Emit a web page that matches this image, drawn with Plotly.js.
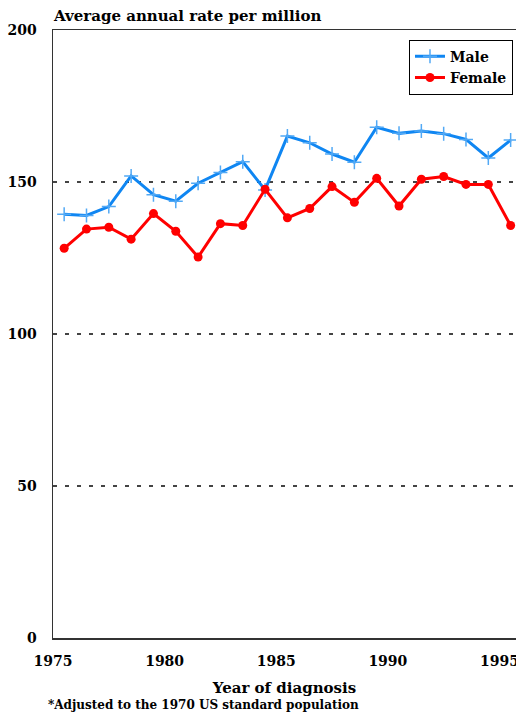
<!DOCTYPE html>
<html>
<head>
<meta charset="utf-8">
<script src="https://cdn.plot.ly/plotly-3.0.1.min.js"></script>
<style>
html,body{margin:0;padding:0;background:#fff;overflow:hidden;}
#chart{width:516px;height:712px;}
</style>
</head>
<body>
<div id="chart"></div>
<script>
const years = [1975.5,1976.5,1977.5,1978.5,1979.5,1980.5,1981.5,1982.5,1983.5,1984.5,1985.5,1986.5,1987.5,1988.5,1989.5,1990.5,1991.5,1992.5,1993.5,1994.5,1995.5];
const maleRates = [139.4,139.0,141.9,152.0,145.8,143.7,149.6,153.1,156.7,147.4,165.1,162.9,159.2,156.5,168.0,166.0,166.8,165.9,164.0,157.9,163.8];
const femaleRates = [128.2,134.5,135.1,131.2,139.6,133.8,125.3,136.3,135.7,147.6,138.2,141.3,148.5,143.3,151.2,142.1,150.9,151.8,149.2,149.2,135.7];
const xTicks = [1975,1980,1985,1990,1995];
const yTicks = [0,50,100,150,200];
const yAxisTitle = "Average annual rate per million";
const xAxisTitle = "Year of diagnosis";
const footnote = "*Adjusted to the 1970 US standard population";

const FONT = "DejaVu Serif";

const traces = [
  {
    x: years, y: maleRates, name: "Male", type: "scatter", mode: "lines+markers",
    line: {color: "#0f86f2", width: 3},
    marker: {symbol: "cross-thin", size: 10, line: {color: "#52a9f5", width: 1.5}, color: "#52a9f5"}
  },
  {
    x: years, y: femaleRates, name: "Female", type: "scatter", mode: "lines+markers",
    line: {color: "#ff0000", width: 3},
    marker: {symbol: "circle", size: 9, color: "#ff0000"}
  }
];

const layout = {
  width: 516, height: 712,
  margin: {l: 53, r: 0, t: 30, b: 74},
  paper_bgcolor: "#fff", plot_bgcolor: "#fff",
  font: {family: FONT, color: "#000", size: 14, weight: "bold"},
  showlegend: true,
  legend: {
    x: 0.9935, xanchor: "right", y: 0.984, yanchor: "top",
    bordercolor: "#000", borderwidth: 1, bgcolor: "#fff",
    font: {family: FONT, size: 14, weight: "bold", color: "#000"},
    tracegroupgap: 0, itemwidth: 30
  },
  xaxis: {
    range: [1975, 1995.74],
    tickvals: xTicks, ticktext: xTicks.map(String),
    ticks: "", showgrid: false, zeroline: false,
    showline: true, linecolor: "#333", linewidth: 1.5, mirror: true,
    tickfont: {family: FONT, size: 14, weight: "bold"},
    ticklabelstandoff: 10, ticklabeloverflow: "allow",
    title: {text: xAxisTitle, font: {family: FONT, size: 15, weight: "bold"}, standoff: 14}
  },
  yaxis: {
    range: [0, 200],
    tickvals: yTicks, ticktext: yTicks.map(String),
    ticks: "", zeroline: false,
    showgrid: true, gridcolor: "#444", gridwidth: 1.3, griddash: "4px,8px",
    showline: true, linecolor: "#333", linewidth: 1.5,
    tickfont: {family: FONT, size: 14, weight: "bold"},
    ticklabelstandoff: 12
  },
  annotations: [
    {text: yAxisTitle, xref: "paper", yref: "paper", x: -0.004, y: 1.0, xanchor: "left", yanchor: "bottom",
     yshift: 3, showarrow: false, font: {family: FONT, size: 15, weight: "bold"}},
    {text: footnote, xref: "paper", yref: "paper", x: -0.015, y: 0, xanchor: "left", yanchor: "middle",
     yshift: -67, showarrow: false, font: {family: FONT, size: 12, weight: "bold"}}
  ],
  hovermode: false
};

Plotly.newPlot("chart", traces, layout, {displayModeBar: false, staticPlot: true});
</script>
</body>
</html>
